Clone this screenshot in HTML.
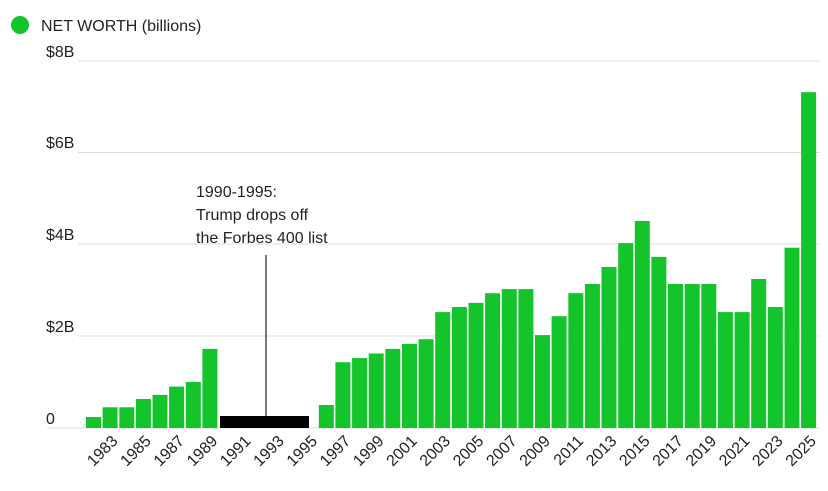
<!DOCTYPE html>
<html><head><meta charset="utf-8"><style>
html,body{margin:0;padding:0;background:#fff;}
svg{display:block;font-family:"Liberation Sans",sans-serif;}
</style></head><body>
<svg width="828" height="491" viewBox="0 0 828 491" xmlns="http://www.w3.org/2000/svg">
<circle cx="20" cy="25" r="9" fill="#13c42b"/>
<text x="41" y="31" font-size="16" fill="#222">NET WORTH (billions)</text>
<g stroke="#ddd" stroke-width="1">
<line x1="78" y1="61" x2="820" y2="61"/>
<line x1="78" y1="152.5" x2="820" y2="152.5"/>
<line x1="78" y1="244" x2="820" y2="244"/>
<line x1="78" y1="336" x2="820" y2="336"/>
<line x1="47" y1="428" x2="820" y2="428"/>
</g>
<g font-size="16" fill="#222">
<text x="46" y="57">$8B</text>
<text x="46" y="148">$6B</text>
<text x="46" y="240">$4B</text>
<text x="46" y="332">$2B</text>
<text x="46" y="424">0</text>
<text x="196" y="197">1990-1995:</text>
<text x="196" y="220">Trump drops off</text>
<text x="196" y="243">the Forbes 400 list</text>
</g>
<line x1="266" y1="255" x2="266" y2="416" stroke="#222" stroke-width="1.2"/>
<rect x="220" y="416" width="89" height="12" fill="#000"/>
<g id="bars" fill="#13c42b"></g>
<g id="labels" font-size="16" fill="#222"></g>
<script>
var v={1982:.24,1983:.45,1984:.45,1985:.63,1986:.72,1987:.9,1988:1.0,1989:1.72,1996:.5,1997:1.43,1998:1.52,1999:1.62,2000:1.72,2001:1.83,2002:1.93,2003:2.52,2004:2.63,2005:2.72,2006:2.93,2007:3.02,2008:3.02,2009:2.02,2010:2.43,2011:2.93,2012:3.13,2013:3.5,2014:4.02,2015:4.5,2016:3.72,2017:3.13,2018:3.13,2019:3.13,2020:2.52,2021:2.52,2022:3.24,2023:2.63,2024:3.92,2025:7.3};
var ns="http://www.w3.org/2000/svg",b=document.getElementById('bars'),l=document.getElementById('labels');
for(var y=1982;y<=2025;y++){var x=86+(y-1982)*16.63;
if(v[y]!==undefined){var r=document.createElementNS(ns,'rect');var h=v[y]*46;r.setAttribute('x',x.toFixed(1));r.setAttribute('y',(428-h).toFixed(1));r.setAttribute('width','15');r.setAttribute('height',h.toFixed(1));b.appendChild(r);}
if(y%2==1){var t=document.createElementNS(ns,'text');var tx=x+16,ty=442;t.setAttribute('x',tx);t.setAttribute('y',ty);t.setAttribute('text-anchor','end');t.setAttribute('transform','rotate(-45 '+tx+' '+ty+')');t.textContent=y;l.appendChild(t);}}
</script>
</svg>
</body></html>
